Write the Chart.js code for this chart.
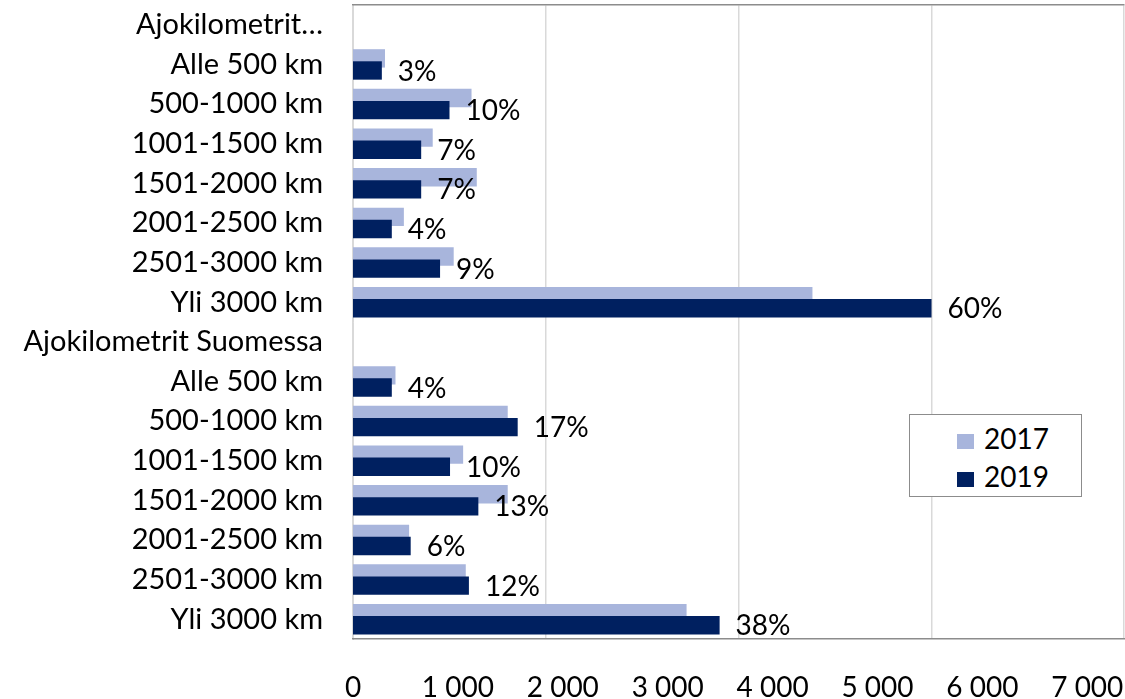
<!DOCTYPE html>
<html>
<head>
<meta charset="utf-8">
<script src="https://cdn.jsdelivr.net/npm/chart.js@4.4.1/dist/chart.umd.min.js"></script>
<style>
	body{margin:0;background:#fff;}
	#wrap{position:relative;width:1125px;height:699px;}
	#legenda{position:absolute;left:909px;top:414px;width:171px;height:81px;border:1.5px solid #8c8c8c;background:#fff;font-family:Lato,sans-serif;font-size:28px;color:#000;}
	#legenda div{position:absolute;left:47px;height:30px;line-height:30px;}
	#legenda span{display:inline-block;width:17px;height:15px;margin-right:10px;vertical-align:middle;}
</style>
</head>
<body>
<div id="wrap">
	<canvas id="myChart" width="1125" height="699"></canvas>
	<div id="legenda"></div>
</div>
<script>
// kategoriat ylhäältä alas
var kategoriat = ["Ajokilometrit…","Alle 500 km","500-1000 km","1001-1500 km","1501-2000 km","2001-2500 km","2501-3000 km","Yli 3000 km",
	"Ajokilometrit Suomessa","Alle 500 km","500-1000 km","1001-1500 km","1501-2000 km","2001-2500 km","2501-3000 km","Yli 3000 km"];
var v2017 = [null,305,1130,760,1180,485,960,4380, null,405,1475,1050,1475,535,1075,3180];
var v2019 = [null,275,920,650,650,370,830,5515, null,370,1570,925,1195,550,1105,3495];
var pros2019 = [null,3,10,7,7,4,9,60, null,4,17,10,13,6,12,38];
var vuodet = ["2017","2019"];
var varit = ["#a8b5dc","#002060"];
var akseliTicks = [0,1000,2000,3000,4000,5000,6000,7000];

function separador(x){
	return x.toString().replace(/\B(?=(\d{3})+(?!\d))/g, " ");
}

// 2019 palkit piirretään viimeisenä (päällimmäiseksi) + prosentit perään
var prosentit = {
	id: 'prosentit',
	beforeDatasetDraw: function(chart, args){
		if(args.index == 1) return false;
	},
	afterDatasetsDraw: function(chart){
		var ctx = chart.ctx;
		var meta = chart.getDatasetMeta(1);
		var a = chart.chartArea;
		ctx.save();
		ctx.beginPath();
		ctx.rect(a.left, a.top, a.right - a.left, a.bottom - a.top);
		ctx.clip();
		meta.controller.draw();
		ctx.restore();

		ctx.save();
		ctx.font = "28px Lato";
		ctx.fillStyle = "#000";
		ctx.textBaseline = "middle";
		meta.data.forEach(function(bar, i){
			if(pros2019[i] == null) return;
			ctx.fillText(pros2019[i] + "%", bar.x + 16, bar.y + 1);
		});
		ctx.restore();
	}
};

function graf(){
	var ctx = document.getElementById("myChart").getContext('2d');
	var chart = new Chart(ctx, {
		type: 'bar',
		data: {
			labels: kategoriat,
			datasets: [
				{label: vuodet[0], data: v2017, backgroundColor: varit[0]},
				{label: vuodet[1], data: v2019, backgroundColor: varit[1]}
			]
		},
		options: {
			indexAxis: 'y',
			responsive: false,
			animation: false,
			devicePixelRatio: 1,
			categoryPercentage: 0.61,
			barPercentage: 1.52,
			layout: {padding: {top: 5, right: 1, left: 0, bottom: 0}},
			plugins: {legend: {display: false}, tooltip: {enabled: false}},
			scales: {
				y: {
					grid: {display: false},
					border: {color: "#d9d9d9"},
					ticks: {color: "#000", font: {family: "Lato", size: 29}, padding: 22},
					afterFit: function(s){ s.width = 353; s.paddingTop = 0; s.paddingBottom = 0; }
				},
				x: {
					position: 'bottom',
					min: 0, max: 7350,
					grid: {display: false},
					border: {color: "#8c8c8c", width: 1.5},
					afterBuildTicks: function(s){ s.ticks = akseliTicks.map(function(v){ return {value: v}; }); },
					ticks: {color: "#000", font: {family: "Lato", size: 28}, padding: 24, maxRotation: 0,
						callback: function(v){ return separador(v); }},
					afterFit: function(s){ s.height = 60; s.paddingLeft = 0; s.paddingRight = 0; }
				},
				g: {
					axis: 'x',
					position: 'top',
					min: 0, max: 4000,
					ticks: {display: false, stepSize: 1000},
					grid: {color: "#d9d9d9", drawTicks: false, lineWidth: 1.5},
					border: {color: "#8c8c8c", width: 1.5},
					afterFit: function(s){ s.height = 0; s.paddingLeft = 0; s.paddingRight = 0; }
				}
			}
		},
		plugins: [prosentit]
	});

	var leg = document.getElementById("legenda");
	for(var i=0;i<vuodet.length;i++){
		leg.innerHTML += "<div style=\"top:" + (8 + i*38) + "px\"><span style=\"background:" + varit[i] + "\"></span>" + vuodet[i] + "</div>";
	}
}
graf();
</script>
</body>
</html>
